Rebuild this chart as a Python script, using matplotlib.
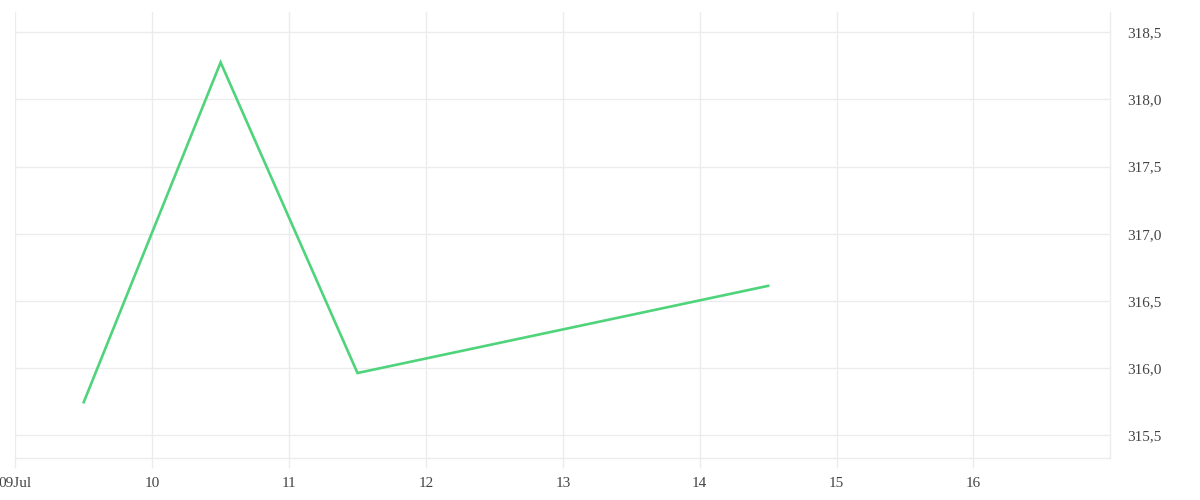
import matplotlib
matplotlib.use("Agg")
import matplotlib.pyplot as plt
import matplotlib.dates as mdates
from matplotlib.ticker import FuncFormatter, FixedLocator
import numpy as np
from datetime import datetime

# Data
timestamps = ["2024-07-09 12:00", "2024-07-10 12:00", "2024-07-11 12:00", "2024-07-14 12:00"]
values = [315.746, 318.276, 315.963, 316.612]
y_ticks = [315.5, 316.0, 316.5, 317.0, 317.5, 318.0, 318.5]
x_tick_days = ["2024-07-09", "2024-07-10", "2024-07-11", "2024-07-12",
               "2024-07-13", "2024-07-14", "2024-07-15", "2024-07-16"]
x_range = ["2024-07-09", "2024-07-17"]
y_range = [315.328, 318.649]

plt.rcParams['font.family'] = ['Liberation Serif', 'DejaVu Serif']

GRID = "#ececec"
TEXT = "#444444"
GREEN = "#4fd37b"

fig = plt.figure(figsize=(12, 5), dpi=100)
ax = fig.add_axes([15.3 / 1200, (500 - 458.3) / 500, 1095 / 1200, 446 / 500])

xs = [datetime.strptime(t, "%Y-%m-%d %H:%M") for t in timestamps]
ax.plot(xs, values, color=GREEN, linewidth=1.9, solid_joinstyle="miter", zorder=3)

ax.set_xlim(datetime.strptime(x_range[0], "%Y-%m-%d"), datetime.strptime(x_range[1], "%Y-%m-%d"))
ax.set_ylim(*y_range)

tick_dates = [datetime.strptime(d, "%Y-%m-%d") for d in x_tick_days]
ax.xaxis.set_major_locator(FixedLocator(mdates.date2num(tick_dates)))

def xfmt(v, pos):
    d = mdates.num2date(v)
    if pos == 0:
        return d.strftime("%d%b")
    return d.strftime("%d").lstrip("0") if d.day >= 10 else d.strftime("%d")

ax.xaxis.set_major_formatter(FuncFormatter(xfmt))

ax.yaxis.tick_right()
ax.set_yticks(y_ticks)
ax.yaxis.set_major_formatter(FuncFormatter(lambda v, p: f"{v:.1f}".replace(".", ",")))

ax.grid(True, color=GRID, linewidth=1.0, zorder=0)
ax.set_axisbelow(True)

for s in ["top", "left"]:
    ax.spines[s].set_visible(False)
for s in ["right", "bottom"]:
    ax.spines[s].set_color(GRID)
    ax.spines[s].set_linewidth(1.0)

ax.tick_params(axis="x", length=7.5, width=1.0, color=GRID, labelcolor=TEXT,
               labelsize=11, pad=6)
ax.tick_params(axis="y", length=0, labelcolor=TEXT, labelsize=11, pad=12.5)

fig.savefig("out.png", dpi=100, facecolor="white")
